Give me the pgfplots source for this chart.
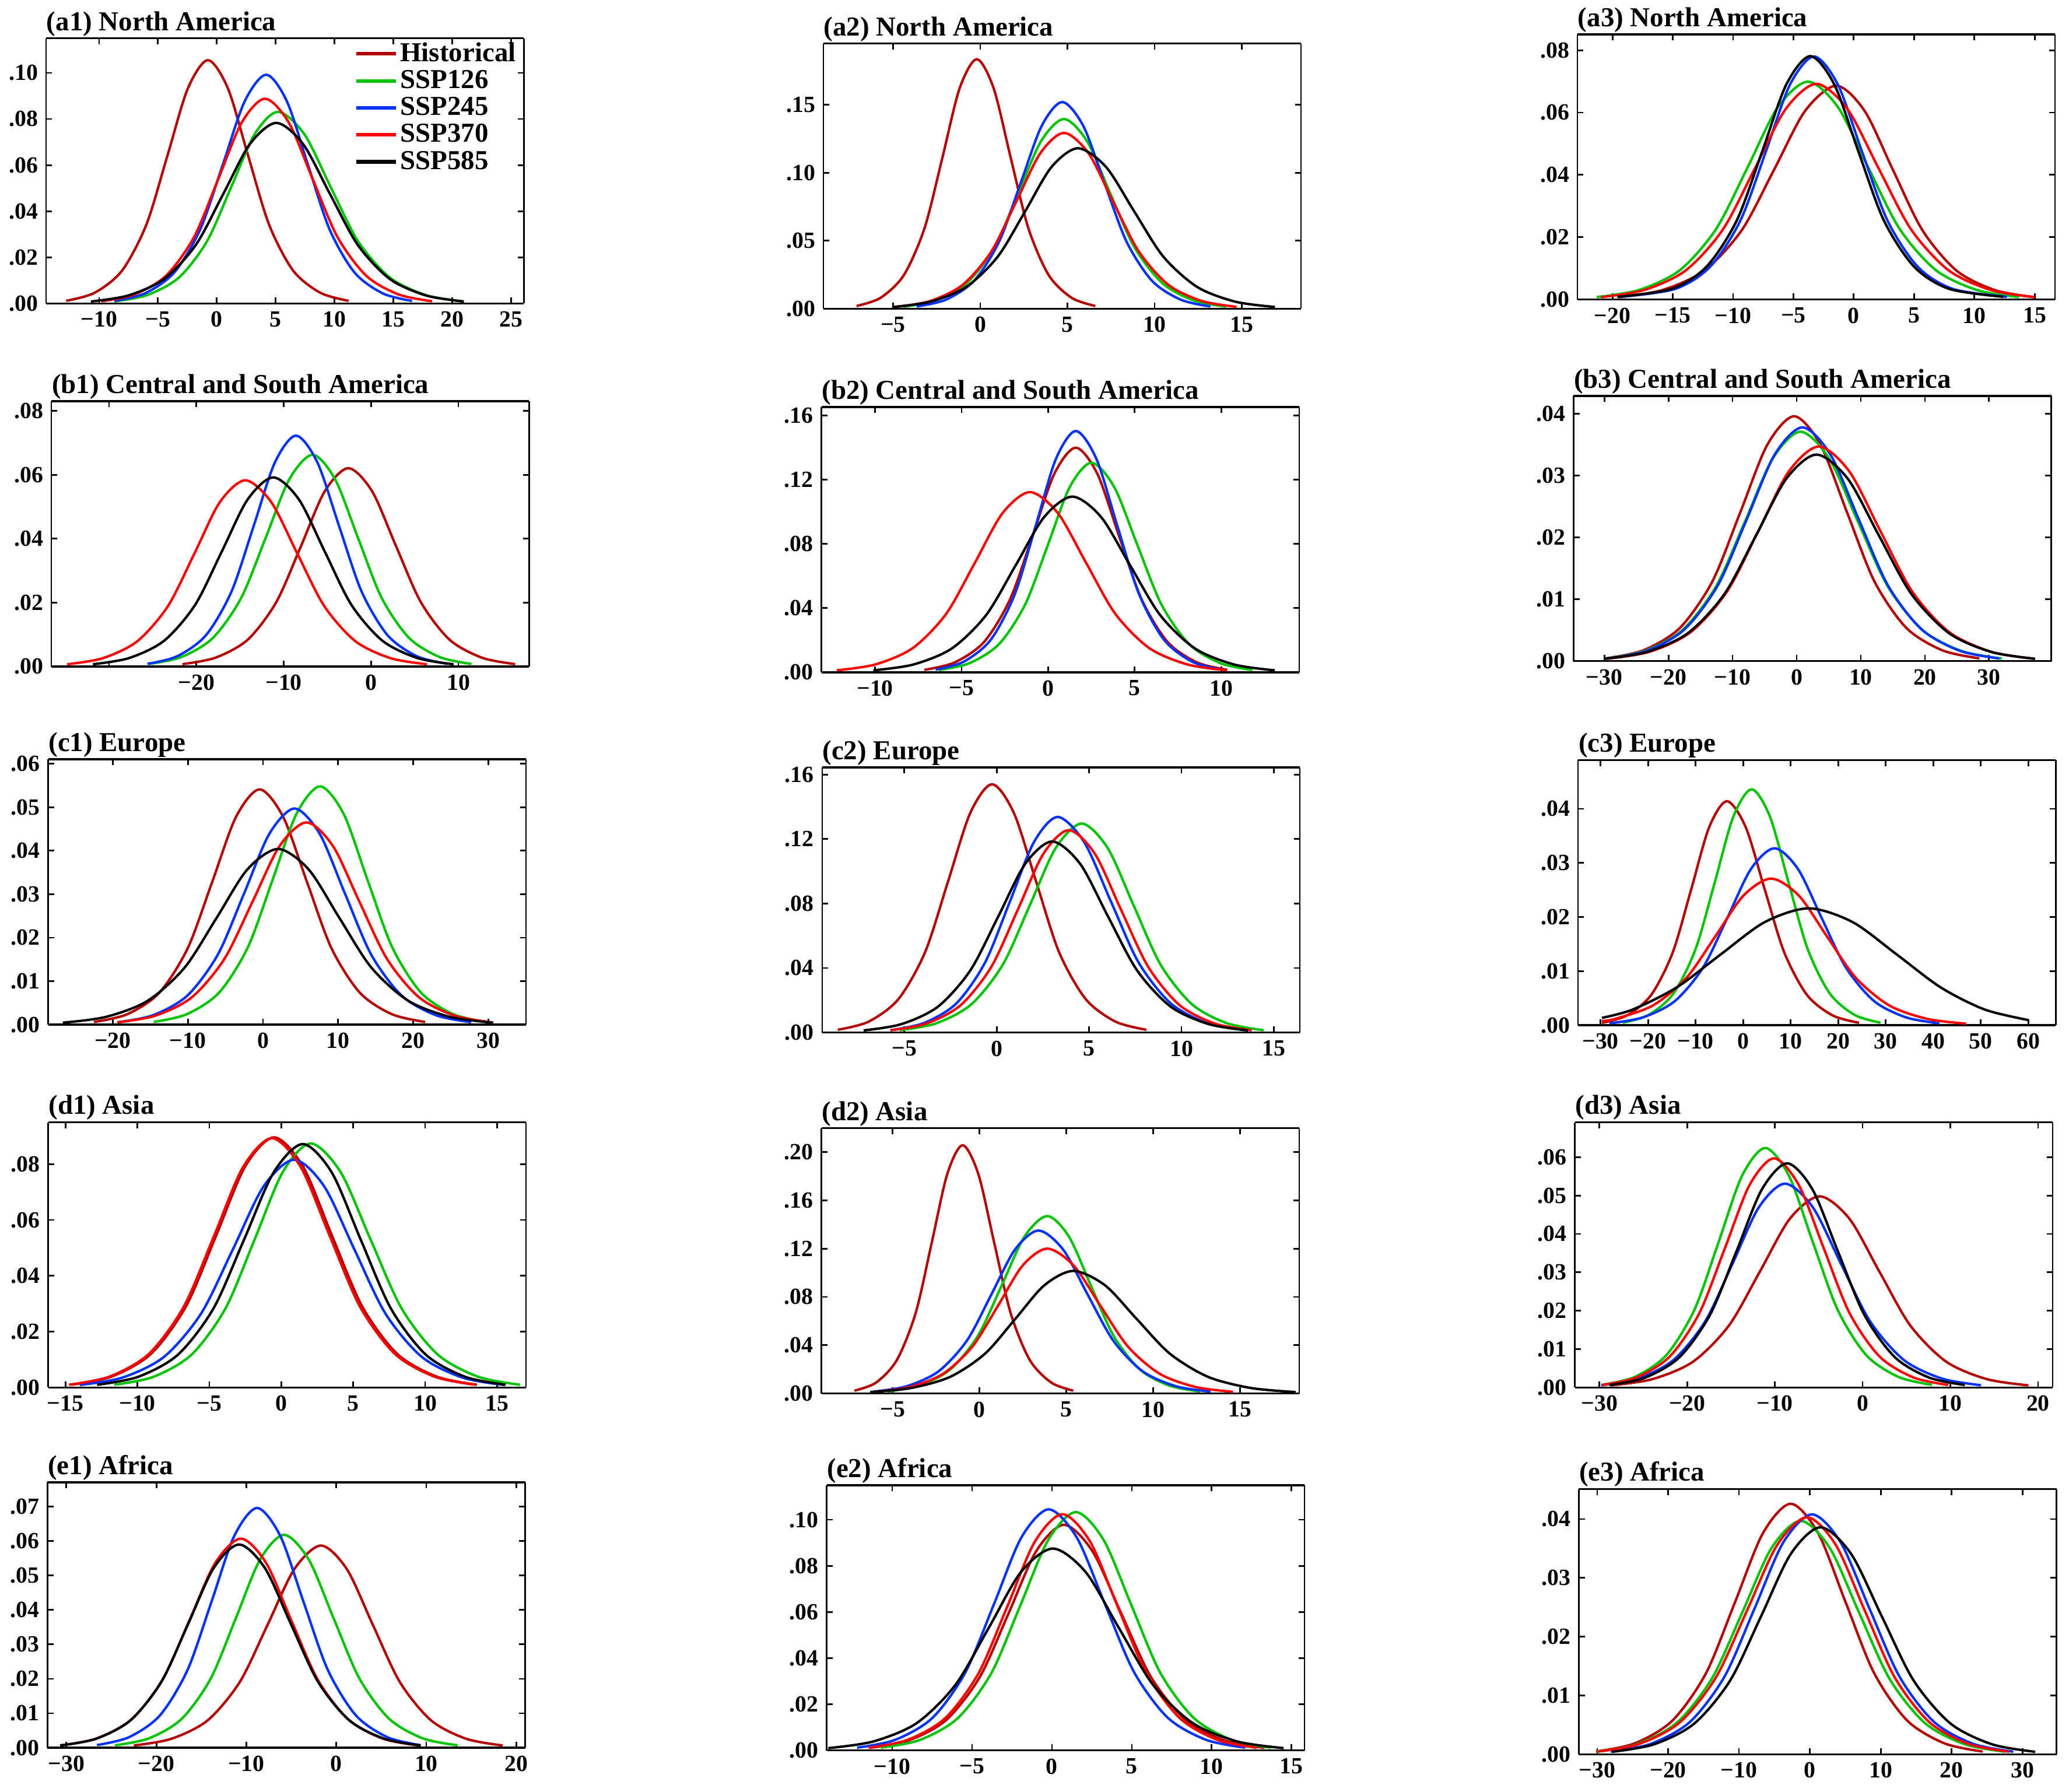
\documentclass[border=0pt]{standalone}
\usepackage{fontspec}
\setmainfont{Liberation Serif}
\usepackage{pgfplots}
\pgfplotsset{compat=1.18}

\definecolor{chist}{RGB}{180,0,0}
\definecolor{cssp126}{RGB}{0,195,0}
\definecolor{cssp245}{RGB}{0,50,255}
\definecolor{cssp370}{RGB}{255,0,0}

\pgfplotsset{
  panel/.style={
    scale only axis, width=7.24cm, height=4.02cm, anchor=south west,
    ymin=0, scaled y ticks=false, scaled x ticks=false,
    separate axis lines,
    x axis line style={line width=0.9pt},
    y axis line style={line width=0.6pt},
    tick align=inside, major tick length=0.09cm,
    every tick/.append style={black, line width=0.7pt},
    ticklabel style={font=\fontsize{10}{11}\selectfont\bfseries},
    every axis title shift=0pt,
    title style={at={(0,1)}, anchor=base west, yshift=0.12cm, inner sep=0pt,
      font=\fontsize{11.8}{13}\selectfont\bfseries},
  },
  hist/.style={chist, line width=1.05pt, smooth},
  sa/.style={cssp126, line width=1.05pt, smooth},
  sb/.style={cssp245, line width=1.05pt, smooth},
  sc/.style={cssp370, line width=1.05pt, smooth},
  sd/.style={black, line width=1.05pt, smooth},
}

\begin{document}
\begin{tikzpicture}
\path[use as bounding box] (0cm,0cm) rectangle (31.36cm,-27.16cm);

% ---------- row a ----------
\begin{axis}[panel, at={(0.70cm,-4.60cm)}, title={(a1) North America},
  xmin=-14.5, xmax=26.1, ymax=0.115,
  xtick={-10,-5,0,5,10,15,20,25}, xticklabels={−10,−5,0,5,10,15,20,25},
  ytick={0,0.02,0.04,0.06,0.08,0.10}, yticklabels={.00,.02,.04,.06,.08,.10},
  legend style={draw=none, fill=none, at={(1,1)}, anchor=north east, xshift=-0.08cm, yshift=-0.02cm,
    font=\fontsize{11.8}{12}\selectfont\bfseries, row sep=0.3pt, inner sep=0pt, nodes={inner sep=1pt}},
  legend cell align=left,
  legend image code/.code={\draw[#1, line width=1.6pt] (0cm,0cm) -- (0.6cm,0cm);}]
\addplot[hist] coordinates {(-12.8,.00117)(-10.39,.00463)(-8.05,.01427)(-5.98,.03426)(-4.2,.06399)(-2.47,.0931)(-0.75,.1055)(0.96,.0931)(2.67,.06399)(4.44,.03426)(6.49,.01427)(8.81,.00463)(11.2,.00117)};
\addplot[sa] coordinates {(-8.7,.00092)(-5.92,.00365)(-3.22,.01124)(-0.83,.02698)(1.22,.0504)(3.21,.07334)(5.2,.0831)(7.45,.07334)(9.69,.0504)(12.01,.02698)(14.71,.01124)(17.76,.00365)(20.9,.00092)};
\addplot[sb] coordinates {(-8.7,.0011)(-6.12,.00435)(-3.62,.01342)(-1.4,.03221)(0.51,.06016)(2.36,.08754)(4.2,.0992)(5.97,.08754)(7.75,.06016)(9.58,.03221)(11.71,.01342)(14.12,.00435)(16.6,.0011)};
\addplot[sc] coordinates {(-9.8,.00099)(-7.02,.0039)(-4.32,.01201)(-1.93,.02883)(0.12,.05386)(2.11,.07837)(4.1,.0888)(6.13,.07837)(8.16,.05386)(10.26,.02883)(12.71,.01201)(15.46,.0039)(18.3,.00099)};
\addplot[sd] coordinates {(-10.7,.00087)(-7.55,.00344)(-4.49,.01059)(-1.78,.02542)(0.55,.04749)(2.81,.0691)(5.06,.0783)(7.34,.0691)(9.62,.04749)(11.98,.02542)(14.72,.01059)(17.81,.00344)(21.0,.00087)};
\legend{Historical,SSP126,SSP245,SSP370,SSP585}
\end{axis}

\begin{axis}[panel, at={(12.48cm,-4.68cm)}, title={(a2) North America},
  xmin=-9.0, xmax=18.4, ymax=0.195,
  xtick={-5,0,5,10,15}, xticklabels={−5,0,5,10,15},
  ytick={0,0.05,0.10,0.15}, yticklabels={.00,.05,.10,.15}]
\addplot[hist] coordinates {(-7.1,.00204)(-5.72,.00806)(-4.38,.02483)(-3.19,.05958)(-2.17,.11129)(-1.19,.16194)(-0.2,.1835)(0.77,.16194)(1.74,.11129)(2.75,.05958)(3.92,.02483)(5.24,.00806)(6.6,.00204)};
\addplot[sa] coordinates {(-4.4,.00155)(-2.56,.00612)(-0.78,.01887)(0.81,.0453)(2.17,.08461)(3.48,.12311)(4.8,.1395)(6.13,.12311)(7.46,.08461)(8.84,.0453)(10.44,.01887)(12.24,.00612)(14.1,.00155)};
\addplot[sb] coordinates {(-3.65,.00169)(-1.98,.00667)(-0.36,.02057)(1.08,.04935)(2.31,.09219)(3.51,.13414)(4.7,.152)(5.92,.13414)(7.13,.09219)(8.39,.04935)(9.85,.02057)(11.5,.00667)(13.2,.00169)};
\addplot[sc] coordinates {(-4.8,.00144)(-2.88,.00568)(-1.02,.01749)(0.63,.04198)(2.05,.07842)(3.43,.11411)(4.8,.1293)(6.22,.11411)(7.63,.07842)(9.1,.04198)(10.8,.01749)(12.72,.00568)(14.7,.00144)};
\addplot[sd] coordinates {(-5.0,.00131)(-2.88,.00518)(-0.82,.01597)(1.0,.03831)(2.57,.07157)(4.08,.10414)(5.6,.118)(7.22,.10414)(8.83,.07157)(10.5,.03831)(12.45,.01597)(14.64,.00518)(16.9,.00131)};
\end{axis}

\begin{axis}[panel, at={(23.91cm,-4.54cm)}, title={(a3) North America},
  xmin=-22.9, xmax=16.7, ymax=0.0851,
  xtick={-20,-15,-10,-5,0,5,10,15}, xticklabels={−20,−15,−10,−5,0,5,10,15},
  ytick={0,0.02,0.04,0.06,0.08}, yticklabels={.00,.02,.04,.06,.08}]
\addplot[hist] coordinates {(-19.5,.00076)(-15.89,.00301)(-12.39,.00928)(-9.28,.02227)(-6.61,.04161)(-4.03,.06054)(-1.45,.0686)(0.9,.06054)(3.25,.04161)(5.69,.02227)(8.52,.00928)(11.71,.00301)(15.0,.00076)};
\addplot[sa] coordinates {(-21.3,.00078)(-17.8,.00307)(-14.4,.00946)(-11.4,.0227)(-8.8,.04239)(-6.3,.06169)(-3.8,.0699)(-1.3,.06169)(1.2,.04239)(3.8,.0227)(6.8,.00946)(10.2,.00307)(13.7,.00078)};
\addplot[sb] coordinates {(-19.3,.00087)(-14.8,.00342)(-11.9,.01055)(-9.4,.02533)(-7.3,.04731)(-5.3,.06884)(-3.3,.078)(-1.3,.06884)(0.7,.04731)(2.8,.02533)(5.3,.01055)(8.2,.00342)(12.7,.00087)};
\addplot[sc] coordinates {(-20.95,.00077)(-17.38,.00304)(-13.92,.00936)(-10.85,.02247)(-8.21,.04197)(-5.65,.06107)(-3.1,.0692)(-0.51,.06107)(2.08,.04197)(4.76,.02247)(7.87,.00936)(11.38,.00304)(15.0,.00077)};
\addplot[sd] coordinates {(-19.6,.00087)(-15.1,.00343)(-12.2,.01057)(-9.7,.02536)(-7.6,.04737)(-5.6,.06892)(-3.6,.0781)(-1.6,.06892)(0.4,.04737)(2.5,.02536)(5.0,.01057)(7.9,.00343)(12.4,.00087)};
\end{axis}

% ---------- row b ----------
\begin{axis}[panel, at={(0.78cm,-10.10cm)}, title={(b1) Central and South America},
  xmin=-36.6, xmax=18.1, ymax=0.0831,
  xtick={-30,-20,-10,0,10}, xticklabels={,−20,−10,0,10},
  ytick={0,0.02,0.04,0.06,0.08}, yticklabels={.00,.02,.04,.06,.08}]
\addplot[hist] coordinates {(-21.6,.00069)(-17.8,.00273)(-14.11,.0084)(-10.85,.02016)(-8.03,.03766)(-5.32,.0548)(-2.6,.0621)(0.13,.0548)(2.86,.03766)(5.69,.02016)(8.97,.0084)(12.68,.00273)(16.5,.00069)};
\addplot[sa] coordinates {(-25.5,.00074)(-21.74,.00291)(-18.09,.00897)(-14.86,.02153)(-12.08,.04021)(-9.39,.05851)(-6.7,.0663)(-4.1,.05851)(-1.49,.04021)(1.2,.02153)(4.33,.00897)(7.86,.00291)(11.5,.00074)};
\addplot[sb] coordinates {(-25.6,.0008)(-22.2,.00317)(-18.9,.00978)(-15.98,.02348)(-13.46,.04385)(-11.03,.0638)(-8.6,.0723)(-6.13,.0638)(-3.65,.04385)(-1.09,.02348)(1.88,.00978)(5.24,.00317)(8.7,.0008)};
\addplot[sc] coordinates {(-34.8,.00065)(-30.72,.00256)(-26.76,.00789)(-23.25,.01893)(-20.23,.03536)(-17.32,.05145)(-14.4,.0583)(-11.43,.05145)(-8.45,.03536)(-5.37,.01893)(-1.8,.00789)(2.24,.00256)(6.4,.00065)};
\addplot[sd] coordinates {(-31.85,.00066)(-27.72,.0026)(-23.71,.00801)(-20.16,.01922)(-17.11,.0359)(-14.15,.05224)(-11.2,.0592)(-8.25,.05224)(-5.29,.0359)(-2.24,.01922)(1.31,.00801)(5.32,.0026)(9.45,.00066)};
\end{axis}

\begin{axis}[panel, at={(12.45cm,-10.19cm)}, title={(b2) Central and South America},
  xmin=-13.1, xmax=14.5, ymax=0.1653,
  xtick={-10,-5,0,5,10}, xticklabels={−10,−5,0,5,10},
  ytick={0,0.04,0.08,0.12,0.16}, yticklabels={.00,.04,.08,.12,.16}]
\addplot[hist] coordinates {(-7.15,.00155)(-5.4,.00615)(-3.7,.01894)(-2.2,.04546)(-0.9,.08491)(0.35,.12355)(1.6,.14)(2.85,.12355)(4.1,.08491)(5.4,.04546)(6.9,.01894)(8.6,.00615)(10.35,.00155)};
\addplot[sa] coordinates {(-6.3,.00145)(-4.54,.00573)(-2.83,.01767)(-1.32,.04241)(-0.02,.07921)(1.24,.11525)(2.5,.1306)(3.83,.11525)(5.16,.07921)(6.54,.04241)(8.14,.01767)(9.94,.00573)(11.8,.00145)};
\addplot[sb] coordinates {(-6.5,.00167)(-4.88,.0066)(-3.31,.02035)(-1.92,.04883)(-0.72,.09122)(0.44,.13273)(1.6,.1504)(2.8,.13273)(4.0,.09122)(5.25,.04883)(6.69,.02035)(8.32,.0066)(10.0,.00167)};
\addplot[sc] coordinates {(-12.2,.00125)(-9.97,.00493)(-7.81,.01519)(-5.89,.03646)(-4.24,.06811)(-2.64,.0991)(-1.05,.1123)(0.57,.0991)(2.2,.06811)(3.88,.03646)(5.83,.01519)(8.03,.00493)(10.3,.00125)};
\addplot[sd] coordinates {(-10.1,.00122)(-7.8,.00481)(-5.57,.01482)(-3.59,.03555)(-1.89,.06641)(-0.24,.09663)(1.4,.1095)(3.07,.09663)(4.75,.06641)(6.48,.03555)(8.49,.01482)(10.76,.00481)(13.1,.00122)};
\end{axis}

\begin{axis}[panel, at={(23.85cm,-10.02cm)}, title={(b3) Central and South America},
  xmin=-34.8, xmax=39.7, ymax=0.0429,
  xtick={-30,-20,-10,0,10,20,30}, xticklabels={−30,−20,−10,0,10,20,30},
  ytick={0,0.01,0.02,0.03,0.04}, yticklabels={.00,.01,.02,.03,.04}]
\addplot[hist] coordinates {(-29.8,.00044)(-23.92,.00174)(-18.22,.00536)(-13.16,.01286)(-8.81,.02402)(-4.6,.03495)(-0.4,.0396)(3.73,.03495)(7.87,.02402)(12.14,.01286)(17.11,.00536)(22.72,.00174)(28.5,.00044)};
\addplot[sa] coordinates {(-29.8,.00041)(-23.72,.00163)(-17.82,.00502)(-12.59,.01205)(-8.09,.0225)(-3.75,.03274)(0.6,.0371)(5.09,.03274)(9.58,.0225)(14.23,.01205)(19.63,.00502)(25.72,.00163)(32.0,.00041)};
\addplot[sb] coordinates {(-29.5,.00042)(-23.42,.00166)(-17.52,.00511)(-12.29,.01227)(-7.79,.02293)(-3.45,.03336)(0.9,.0378)(5.29,.03336)(9.68,.02293)(14.22,.01227)(19.5,.00511)(25.46,.00166)(31.6,.00042)};
\addplot[sc] coordinates {(-29.5,.00039)(-22.91,.00152)(-16.52,.00469)(-10.85,.01127)(-5.97,.02105)(-1.26,.03062)(3.45,.0347)(8.25,.03062)(13.05,.02105)(18.01,.01127)(23.78,.00469)(30.29,.00152)(37.0,.00039)};
\addplot[sd] coordinates {(-30.0,.00037)(-23.38,.00147)(-16.96,.00452)(-11.27,.01084)(-6.37,.02026)(-1.63,.02948)(3.1,.0334)(7.98,.02948)(12.85,.02026)(17.9,.01084)(23.76,.00452)(30.38,.00147)(37.2,.00037)};
\end{axis}

% ---------- row c ----------
\begin{axis}[panel, at={(0.73cm,-15.53cm)}, title={(c1) Europe},
  xmin=-28.6, xmax=35.0, ymax=0.0610,
  xtick={-20,-10,0,10,20,30}, xticklabels={−20,−10,0,10,20,30},
  ytick={0,0.01,0.02,0.03,0.04,0.05,0.06}, yticklabels={.00,.01,.02,.03,.04,.05,.06}]
\addplot[hist] coordinates {(-22.5,.0006)(-18.09,.00238)(-13.81,.00732)(-10.02,.01757)(-6.76,.03281)(-3.6,.04774)(-0.45,.0541)(2.7,.04774)(5.86,.03281)(9.12,.01757)(12.91,.00732)(17.19,.00238)(21.6,.0006)};
\addplot[sa] coordinates {(-14.55,.00061)(-10.12,.00241)(-5.82,.00741)(-2.01,.01779)(1.27,.03324)(4.43,.04836)(7.6,.0548)(10.77,.04836)(13.93,.03324)(17.21,.01779)(21.02,.00741)(25.32,.00241)(29.75,.00061)};
\addplot[sb] coordinates {(-19.3,.00055)(-14.6,.00218)(-10.04,.00672)(-6.0,.01614)(-2.52,.03014)(0.84,.04386)(4.2,.0497)(7.56,.04386)(10.92,.03014)(14.4,.01614)(18.44,.00672)(23.0,.00218)(27.7,.00055)};
\addplot[sc] coordinates {(-19.4,.00052)(-14.36,.00204)(-9.47,.00629)(-5.14,.0151)(-1.41,.0282)(2.2,.04104)(5.8,.0465)(9.33,.04104)(12.86,.0282)(16.52,.0151)(20.77,.00629)(25.56,.00204)(30.5,.00052)};
\addplot[sd] coordinates {(-26.65,.00045)(-20.92,.00177)(-15.36,.00547)(-10.43,.01312)(-6.19,.0245)(-2.1,.03565)(2.0,.0404)(6.1,.03565)(10.19,.0245)(14.43,.01312)(19.36,.00547)(24.92,.00177)(30.65,.00045)};
\end{axis}

\begin{axis}[panel, at={(12.46cm,-15.65cm)}, title={(c2) Europe},
  xmin=-9.45, xmax=16.4, ymax=0.1645,
  xtick={-5,0,5,10,15}, xticklabels={−5,0,5,10,15},
  ytick={0,0.04,0.08,0.12,0.16}, yticklabels={.00,.04,.08,.12,.16}]
\addplot[hist] coordinates {(-8.6,.00171)(-6.93,.00676)(-5.31,.02084)(-3.87,.05)(-2.64,.0934)(-1.44,.13591)(-0.25,.154)(0.94,.13591)(2.14,.0934)(3.37,.05)(4.81,.02084)(6.43,.00676)(8.1,.00171)};
\addplot[sa] coordinates {(-5.25,.00144)(-3.28,.00569)(-1.37,.01753)(0.33,.04208)(1.78,.0786)(3.19,.11437)(4.6,.1296)(6.01,.11437)(7.42,.0786)(8.87,.04208)(10.57,.01753)(12.48,.00569)(14.45,.00144)};
\addplot[sb] coordinates {(-5.75,.00148)(-3.94,.00587)(-2.18,.01809)(-0.63,.04341)(0.71,.08109)(2.01,.11799)(3.3,.1337)(4.74,.11799)(6.19,.08109)(7.68,.04341)(9.42,.01809)(11.38,.00587)(13.4,.00148)};
\addplot[sc] coordinates {(-5.75,.00139)(-3.82,.00551)(-1.95,.01698)(-0.29,.04075)(1.14,.07612)(2.52,.11075)(3.9,.1255)(5.32,.11075)(6.73,.07612)(8.2,.04075)(9.9,.01698)(11.82,.00551)(13.8,.00139)};
\addplot[sd] coordinates {(-7.2,.00132)(-5.16,.0052)(-3.18,.01603)(-1.43,.03848)(0.08,.07187)(1.54,.10458)(3.0,.1185)(4.52,.10458)(6.03,.07187)(7.6,.03848)(9.42,.01603)(11.48,.0052)(13.6,.00132)};
\end{axis}

\begin{axis}[panel, at={(23.92cm,-15.54cm)}, title={(c3) Europe},
  xmin=-34.7, xmax=65.8, ymax=0.0490,
  xtick={-30,-20,-10,0,10,20,30,40,50,60}, xticklabels={−30,−20,−10,0,10,20,30,40,50,60},
  ytick={0,0.01,0.02,0.03,0.04}, yticklabels={.00,.01,.02,.03,.04}]
\addplot[hist] coordinates {(-29.7,.00046)(-24.44,.00182)(-19.34,.0056)(-14.81,.01344)(-10.92,.02511)(-7.16,.03654)(-3.4,.0414)(0.58,.03654)(4.55,.02511)(8.67,.01344)(13.45,.0056)(18.84,.00182)(24.4,.00046)};
\addplot[sa] coordinates {(-25.3,.00048)(-19.88,.00191)(-14.62,.0059)(-9.96,.01416)(-5.95,.02644)(-2.08,.03848)(1.8,.0436)(5.68,.03848)(9.55,.02644)(13.56,.01416)(18.22,.0059)(23.48,.00191)(28.9,.00048)};
\addplot[sb] coordinates {(-28.1,.00036)(-21.16,.00144)(-14.43,.00442)(-8.46,.01062)(-3.32,.01983)(1.64,.02886)(6.6,.0327)(11.56,.02886)(16.52,.01983)(21.66,.01062)(27.63,.00442)(34.36,.00144)(41.3,.00036)};
\addplot[sc] coordinates {(-29.7,.0008)(-26.9,.00119)(-18.95,.00367)(-11.89,.0088)(-5.83,.01644)(0.04,.02392)(5.9,.0271)(11.76,.02392)(17.63,.01644)(23.69,.0088)(30.75,.00367)(38.7,.00119)(46.9,.0003)};
\addplot[sd] coordinates {(-29.7,.00137)(-23.2,.00292)(-13.95,.00701)(-4.7,.0131)(4.55,.01906)(13.8,.0216)(23.05,.01906)(32.3,.0131)(41.55,.00701)(50.8,.00292)(60,.00097)};
\end{axis}

% ---------- row d ----------
\begin{axis}[panel, at={(0.73cm,-21.03cm)}, title={(d1) Asia},
  xmin=-16.2, xmax=17.0, ymax=0.0950,
  xtick={-15,-10,-5,0,5,10,15}, xticklabels={−15,−10,−5,0,5,10,15},
  ytick={0,0.02,0.04,0.06,0.08}, yticklabels={.00,.02,.04,.06,.08}]
\addplot[hist] coordinates {(-14.6,.00099)(-11.78,.00393)(-9.04,.01212)(-6.62,.02909)(-4.53,.05434)(-2.52,.07907)(-0.5,.0896)(1.52,.07907)(3.53,.05434)(5.62,.02909)(8.04,.01212)(10.78,.00393)(13.6,.00099)};
\addplot[sa] coordinates {(-11.6,.00097)(-8.87,.00384)(-6.22,.01183)(-3.87,.02838)(-1.85,.05301)(0.1,.07713)(2.05,.0874)(4.13,.07713)(6.21,.05301)(8.36,.02838)(10.87,.01183)(13.69,.00384)(16.6,.00097)};
\addplot[sb] coordinates {(-14.0,.00091)(-11.02,.00358)(-8.13,.01104)(-5.57,.0265)(-3.36,.04949)(-1.23,.07201)(0.9,.0816)(2.99,.07201)(5.08,.04949)(7.24,.0265)(9.75,.01104)(12.58,.00358)(15.5,.00091)};
\addplot[sc] coordinates {(-14.75,.00099)(-11.93,.00392)(-9.19,.01208)(-6.77,.029)(-4.68,.05416)(-2.67,.07881)(-0.65,.0893)(1.37,.07881)(3.38,.05416)(5.47,.029)(7.89,.01208)(10.63,.00392)(13.45,.00099)};
\addplot[sd] coordinates {(-12.8,.00097)(-9.94,.00383)(-7.17,.0118)(-4.71,.02831)(-2.59,.05289)(-0.54,.07695)(1.5,.0872)(3.52,.07695)(5.53,.05289)(7.62,.02831)(10.04,.0118)(12.78,.00383)(15.6,.00097)};
\end{axis}

\begin{axis}[panel, at={(12.45cm,-21.12cm)}, title={(d2) Asia},
  xmin=-9.1, xmax=18.4, ymax=0.2198,
  xtick={-5,0,5,10,15}, xticklabels={−5,0,5,10,15},
  ytick={0,0.04,0.08,0.12,0.16,0.20}, yticklabels={.00,.04,.08,.12,.16,.20}]
\addplot[hist] coordinates {(-7.2,.00228)(-5.95,.00903)(-4.75,.02783)(-3.67,.06679)(-2.75,.12476)(-1.86,.18153)(-0.97,.2057)(-0.06,.18153)(0.85,.12476)(1.79,.06679)(2.89,.02783)(4.13,.00903)(5.4,.00228)};
\addplot[sa] coordinates {(-5.3,.00163)(-3.46,.00645)(-1.68,.01989)(-0.09,.04773)(1.27,.08916)(2.58,.12973)(3.9,.147)(5.16,.12973)(6.42,.08916)(7.72,.04773)(9.23,.01989)(10.94,.00645)(12.7,.00163)};
\addplot[sb] coordinates {(-6.1,.0015)(-4.2,.00593)(-2.36,.01827)(-0.72,.04383)(0.68,.08188)(2.04,.11914)(3.4,.135)(4.82,.11914)(6.23,.08188)(7.7,.04383)(9.4,.01827)(11.32,.00593)(13.3,.0015)};
\addplot[sc] coordinates {(-6.0,.00133)(-4.02,.00527)(-2.1,.01624)(-0.4,.03896)(1.07,.07278)(2.48,.1059)(3.9,.12)(5.43,.1059)(6.96,.07278)(8.54,.03896)(10.38,.01624)(12.46,.00527)(14.6,.00133)};
\addplot[sd] coordinates {(-6.3,.00113)(-3.96,.00446)(-1.69,.01373)(0.32,.03296)(2.05,.06156)(3.73,.08957)(5.4,.1015)(7.23,.08957)(9.06,.06156)(10.96,.03296)(13.16,.01373)(15.64,.00446)(18.2,.00113)};
\end{axis}

\begin{axis}[panel, at={(23.87cm,-21.03cm)}, title={(d3) Asia},
  xmin=-32.8, xmax=21.65, ymax=0.0691,
  xtick={-30,-20,-10,0,10,20}, xticklabels={−30,−20,−10,0,10,20},
  ytick={0,0.01,0.02,0.03,0.04,0.05,0.06}, yticklabels={.00,.01,.02,.03,.04,.05,.06}]
\addplot[hist] coordinates {(-28.7,.00055)(-23.94,.00219)(-19.32,.00674)(-15.23,.01617)(-11.71,.0302)(-8.3,.04395)(-4.9,.0498)(-1.5,.04395)(1.91,.0302)(5.43,.01617)(9.52,.00674)(14.14,.00219)(18.9,.00055)};
\addplot[sa] coordinates {(-29.7,.00069)(-25.98,.00274)(-22.37,.00844)(-19.17,.02026)(-16.42,.03785)(-13.76,.05507)(-11.1,.0624)(-8.38,.05507)(-5.67,.03785)(-2.85,.02026)(0.41,.00844)(4.1,.00274)(7.9,.00069)};
\addplot[sb] coordinates {(-29.8,.00059)(-25.61,.00233)(-21.55,.00718)(-17.94,.01724)(-14.84,.03221)(-11.85,.04686)(-8.85,.0531)(-5.65,.04686)(-2.46,.03221)(0.85,.01724)(4.69,.00718)(9.03,.00233)(13.5,.00059)};
\addplot[sc] coordinates {(-29.7,.00066)(-25.78,.00262)(-21.98,.00808)(-18.61,.01938)(-15.71,.03621)(-12.9,.05269)(-10.1,.0597)(-7.26,.05269)(-4.42,.03621)(-1.49,.01938)(1.93,.00808)(5.78,.00262)(9.75,.00066)};
\addplot[sd] coordinates {(-28.85,.00065)(-24.8,.00256)(-20.87,.0079)(-17.39,.01896)(-14.39,.03542)(-11.5,.05154)(-8.6,.0584)(-5.7,.05154)(-2.81,.03542)(0.19,.01896)(3.67,.0079)(7.6,.00256)(11.65,.00065)};
\end{axis}

% ---------- row e ----------
\begin{axis}[panel, at={(0.72cm,-26.49cm)}, title={(e1) Africa},
  xmin=-32.1, xmax=21.0, ymax=0.0770,
  xtick={-30,-20,-10,0,10,20}, xticklabels={−30,−20,−10,0,10,20},
  ytick={0,0.01,0.02,0.03,0.04,0.05,0.06,0.07}, yticklabels={.00,.01,.02,.03,.04,.05,.06,.07}]
\addplot[hist] coordinates {(-22.5,.00065)(-18.34,.00258)(-14.3,.00794)(-10.73,.01906)(-7.65,.0356)(-4.67,.0518)(-1.7,.0587)(1.19,.0518)(4.08,.0356)(7.07,.01906)(10.54,.00794)(14.46,.00258)(18.5,.00065)};
\addplot[sa] coordinates {(-24.6,.00069)(-20.84,.00271)(-17.19,.00836)(-13.96,.02007)(-11.18,.03748)(-8.49,.05454)(-5.8,.0618)(-3.04,.05454)(-0.28,.03748)(2.58,.02007)(5.9,.00836)(9.64,.00271)(13.5,.00069)};
\addplot[sb] coordinates {(-26.6,.00077)(-23.04,.00306)(-19.59,.00942)(-16.53,.0226)(-13.89,.04221)(-11.35,.06142)(-8.8,.0696)(-6.21,.06142)(-3.62,.04221)(-0.94,.0226)(2.17,.00942)(5.68,.00306)(9.3,.00077)};
\addplot[sc] coordinates {(-30.7,.00067)(-26.68,.00266)(-22.78,.00821)(-19.32,.01971)(-16.35,.03681)(-13.47,.05357)(-10.6,.0607)(-7.78,.05357)(-4.97,.03681)(-2.05,.01971)(1.34,.00821)(5.16,.00266)(9.1,.00067)};
\addplot[sd] coordinates {(-30.7,.00065)(-26.72,.00259)(-22.86,.00798)(-19.44,.01916)(-16.49,.03578)(-13.65,.05207)(-10.8,.059)(-7.91,.05207)(-5.02,.03578)(-2.03,.01916)(1.44,.00798)(5.36,.00259)(9.4,.00065)};
\end{axis}

\begin{axis}[panel, at={(12.53cm,-26.53cm)}, title={(e2) Africa},
  xmin=-14.1, xmax=15.8, ymax=0.1150,
  xtick={-10,-5,0,5,10,15}, xticklabels={−10,−5,0,5,10,15},
  ytick={0,0.02,0.04,0.06,0.08,0.10}, yticklabels={.00,.02,.04,.06,.08,.10}]
\addplot[hist] coordinates {(-11.4,.00109)(-8.97,.00429)(-6.61,.01323)(-4.52,.03176)(-2.72,.05932)(-0.99,.08631)(0.75,.0978)(2.54,.08631)(4.34,.05932)(6.2,.03176)(8.36,.01323)(10.79,.00429)(13.3,.00109)};
\addplot[sa] coordinates {(-10.7,.00115)(-8.26,.00453)(-5.89,.01398)(-3.79,.03354)(-1.99,.06265)(-0.24,.09116)(1.5,.1033)(3.24,.09116)(4.99,.06265)(6.79,.03354)(8.89,.01398)(11.26,.00453)(13.7,.00115)};
\addplot[sb] coordinates {(-12.2,.00116)(-9.8,.00459)(-7.47,.01414)(-5.41,.03393)(-3.63,.06338)(-1.92,.09222)(-0.2,.1045)(1.56,.09222)(3.32,.06338)(5.14,.03393)(7.25,.01414)(9.64,.00459)(12.1,.00116)};
\addplot[sc] coordinates {(-11.49,.00114)(-9.06,.0045)(-6.7,.01385)(-4.61,.03325)(-2.81,.06211)(-1.08,.09037)(0.66,.1024)(2.4,.09037)(4.13,.06211)(5.93,.03325)(8.02,.01385)(10.38,.0045)(12.81,.00114)};
\addplot[sd] coordinates {(-14.0,.00097)(-11.19,.00384)(-8.46,.01184)(-6.04,.02841)(-3.96,.05307)(-1.95,.07722)(0.06,.0875)(2.12,.07722)(4.19,.05307)(6.33,.02841)(8.81,.01184)(11.61,.00384)(14.5,.00097)};
\end{axis}

\begin{axis}[panel, at={(23.93cm,-26.59cm)}, title={(e3) Africa},
  xmin=-32.6, xmax=34.8, ymax=0.0451,
  xtick={-30,-20,-10,0,10,20,30}, xticklabels={−30,−20,−10,0,10,20,30},
  ytick={0,0.01,0.02,0.03,0.04}, yticklabels={.00,.01,.02,.03,.04}]
\addplot[hist] coordinates {(-30.2,.00047)(-24.7,.00187)(-19.37,.00576)(-14.64,.01383)(-10.57,.02584)(-6.63,.03759)(-2.7,.0426)(1.18,.03759)(5.05,.02584)(9.06,.01383)(13.72,.00576)(18.98,.00187)(24.4,.00047)};
\addplot[sa] coordinates {(-30.15,.00044)(-24.38,.00174)(-18.78,.00537)(-13.82,.01289)(-9.55,.02408)(-5.43,.03504)(-1.3,.0397)(2.83,.03504)(6.95,.02408)(11.22,.01289)(16.18,.00537)(21.78,.00174)(27.55,.00044)};
\addplot[sb] coordinates {(-28.1,.00045)(-22.42,.00179)(-16.91,.00552)(-12.03,.01325)(-7.82,.02475)(-3.76,.03601)(0.3,.0408)(4.36,.03601)(8.42,.02475)(12.63,.01325)(17.51,.00552)(23.02,.00179)(28.7,.00045)};
\addplot[sc] coordinates {(-30.0,.00045)(-24.08,.00177)(-18.34,.00545)(-13.25,.01309)(-8.87,.02444)(-4.63,.03556)(-0.4,.0403)(3.68,.03556)(7.75,.02444)(11.97,.01309)(16.87,.00545)(22.4,.00177)(28.1,.00045)};
\addplot[sd] coordinates {(-27.9,.00043)(-22.02,.00169)(-16.32,.00522)(-11.26,.01253)(-6.91,.02341)(-2.7,.03406)(1.5,.0386)(5.83,.03406)(10.17,.02341)(14.65,.01253)(19.86,.00522)(25.74,.00169)(31.8,.00043)};
\end{axis}
\end{tikzpicture}
\end{document}
